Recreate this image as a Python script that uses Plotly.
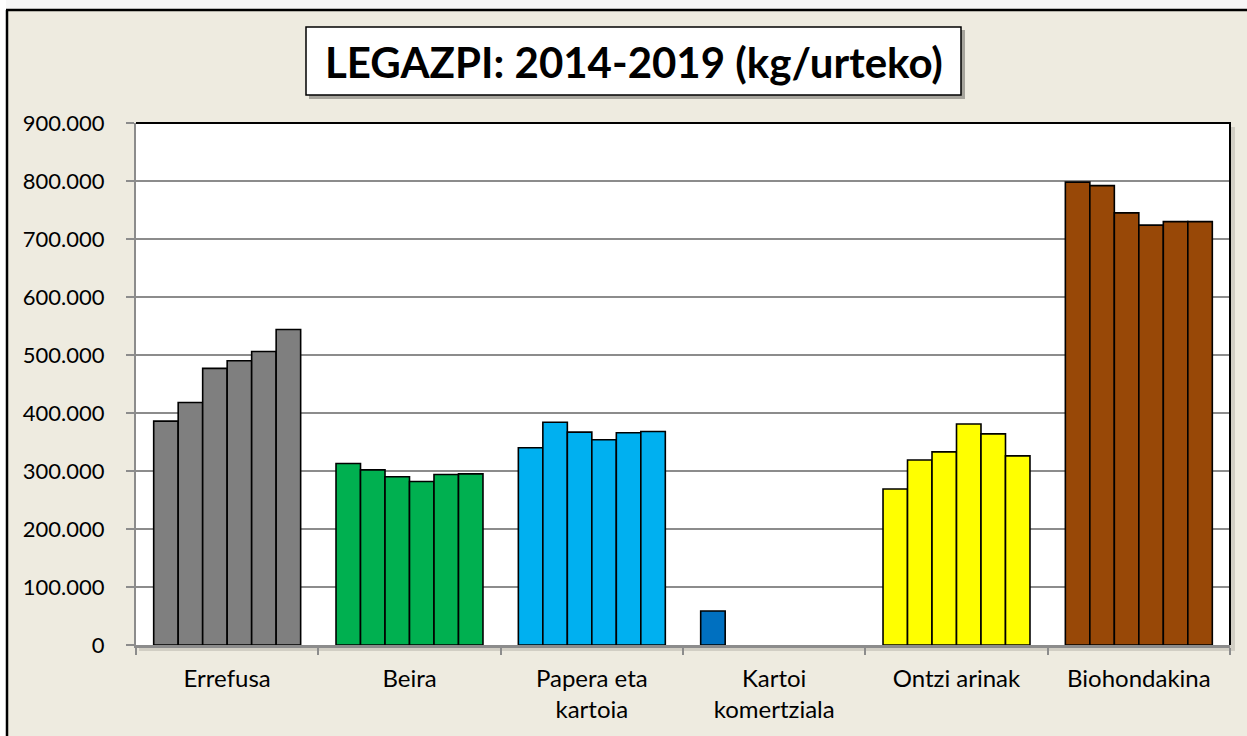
import plotly.graph_objects as go

# categories and yearly values (kg/urteko)
categories = ["Errefusa", "Beira", "Papera eta<br>kartoia", "Kartoi<br>komertziala", "Ontzi arinak", "Biohondakina"]
years = ["2014", "2015", "2016", "2017", "2018", "2019"]

errefusa = [386000, 418000, 477000, 490000, 506000, 544000]
beira = [313000, 302000, 290000, 282000, 294000, 295000]
papera = [340000, 384000, 367000, 354000, 366000, 368000]
kartoi = [58600, None, None, None, None, None]
ontzi = [269000, 319000, 333000, 381000, 364000, 326000]
bio = [798000, 792000, 745000, 724000, 730000, 730000]

colors = ["#7F7F7F", "#00B050", "#00B0F0", "#0070C0", "#FFFF00", "#984807"]

series = [errefusa, beira, papera, kartoi, ontzi, bio]

FONT = "Lato"

fig = go.Figure()
for i, year in enumerate(years):
    fig.add_trace(go.Bar(
        name=year,
        x=categories,
        y=[s[i] for s in series],
        marker=dict(color=colors, line=dict(color="black", width=1.6)),
        showlegend=False,
    ))

# plot area in pixels: x 136..1230, y 123..645
L, R, T, B = 136, 1230, 123, 645
W, H = R - L, B - T


def px(x):
    return (x - L) / W


def py(y):
    return (B - y) / H


shapes = [
    # white strips outside the chart frame
    dict(type="rect", xref="paper", yref="paper", x0=px(0), x1=px(1247), y0=py(9), y1=py(0),
         fillcolor="#F7F7F7", line=dict(width=0), layer="below"),
    dict(type="rect", xref="paper", yref="paper", x0=px(0), x1=px(6), y0=py(736), y1=py(0),
         fillcolor="#FFFFFF", line=dict(width=0), layer="below"),
    # chart frame
    dict(type="line", xref="paper", yref="paper", x0=px(6), x1=px(1247), y0=py(10), y1=py(10),
         line=dict(color="black", width=2.5)),
    dict(type="line", xref="paper", yref="paper", x0=px(7), x1=px(7), y0=py(10), y1=py(736),
         line=dict(color="black", width=2.5)),
    # plot area shadow
    dict(type="rect", xref="paper", yref="paper", x0=px(L + 3), x1=px(R + 5), y0=py(B + 6), y1=py(T + 4),
         fillcolor="rgba(0,0,0,0.12)", line=dict(width=0), layer="below"),
    dict(type="rect", xref="paper", yref="paper", x0=0, x1=1, y0=0, y1=1,
         fillcolor="white", line=dict(width=0), layer="below"),
    # plot area top / right border
    dict(type="line", xref="paper", yref="paper", x0=0, x1=px(R + 1), y0=1, y1=1,
         line=dict(color="black", width=2)),
    dict(type="line", xref="paper", yref="paper", x0=1, x1=1, y0=0, y1=1,
         line=dict(color="black", width=2)),
    # title box shadow and box
    dict(type="rect", xref="paper", yref="paper", x0=px(309), x1=px(965), y0=py(99), y1=py(30),
         fillcolor="rgba(0,0,0,0.3)", line=dict(width=0)),
    dict(type="rect", xref="paper", yref="paper", x0=px(306), x1=px(961), y0=py(95), y1=py(27),
         fillcolor="white", line=dict(color="black", width=1.5)),
]

fig.update_layout(
    width=1247,
    height=736,
    margin=dict(l=L, r=1247 - R, t=T, b=736 - B),
    paper_bgcolor="#EEEBE0",
    plot_bgcolor="rgba(0,0,0,0)",
    separators=",.",
    barmode="group",
    bargap=0.194,
    bargroupgap=0,
    font=dict(family=FONT, size=22, color="black"),
    shapes=shapes,
    annotations=[dict(
        text="LEGAZPI: 2014-2019 (kg/urteko)",
        xref="paper", yref="paper", x=px(633.5), y=py(62),
        xanchor="center", yanchor="middle", showarrow=False,
        font=dict(family=FONT, size=42, color="black", weight="bold"),
    )],
)

fig.update_yaxes(
    range=[0, 900000],
    dtick=100000,
    tickformat=",.0f",
    tickfont=dict(size=22),
    showgrid=True,
    gridcolor="#8C8C8C",
    gridwidth=1.6,
    showline=True,
    linecolor="#8C8C8C",
    linewidth=2,
    ticks="outside",
    ticklen=8,
    tickcolor="#8C8C8C",
    tickwidth=1.6,
    ticklabelstandoff=17,
    zeroline=False,
)

fig.update_xaxes(
    tickfont=dict(size=24),
    showline=True,
    linecolor="#8C8C8C",
    linewidth=2.5,
    ticks="outside",
    tickson="boundaries",
    ticklen=7,
    tickcolor="#8C8C8C",
    tickwidth=1.6,
    ticklabelstandoff=10,
)

# the page body has a default 8px margin; drop it so the figure sits at the window corner
fig.write_html(
    "out.html",
    config={"displayModeBar": False},
    post_script="document.body.style.margin='0px';",
)
